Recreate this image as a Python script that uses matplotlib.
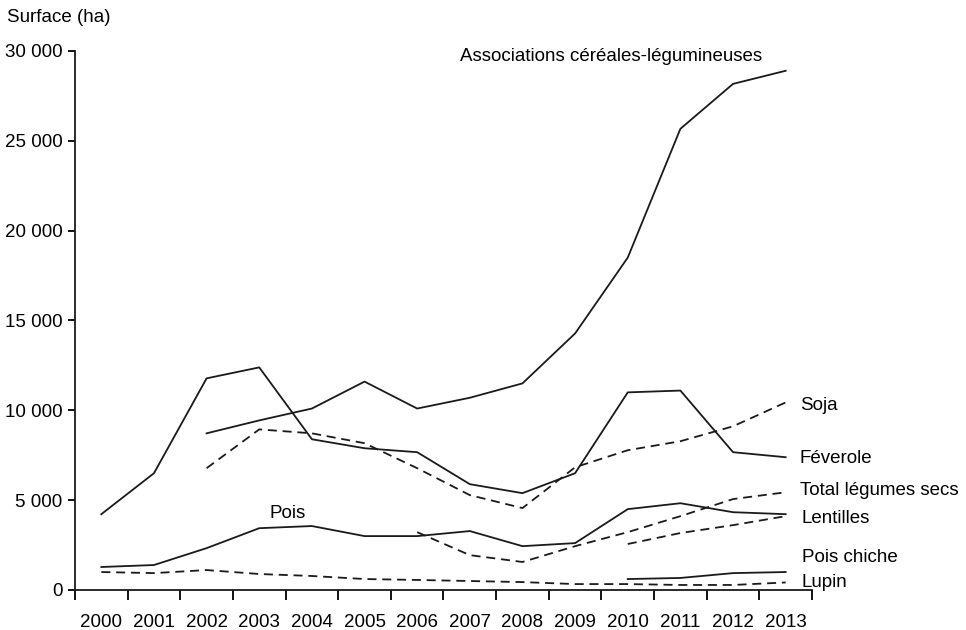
import matplotlib
matplotlib.use("Agg")
import matplotlib.pyplot as plt
import numpy as np

plt.rcParams['font.family'] = ['Liberation Sans', 'DejaVu Sans']

years = list(range(2000, 2014))
year_labels = [str(y) for y in years]

assoc = [None, None, 8720, 9440, 10100, 11600, 10100, 10700, 11500, 14280, 18500, 25670, 28170, 28900]
feverole = [4220, 6500, 11780, 12390, 8390, 7890, 7670, 5890, 5390, 6500, 11000, 11100, 7670, 7390]
soja = [None, None, 6780, 8940, 8720, 8170, 6780, 5280, 4560, 6830, 7780, 8280, 9110, 10440]
pois = [1280, 1390, 2330, 3440, 3560, 3000, 3000, 3280, 2440, 2610, 4500, 4830, 4330, 4220]
total_secs = [None, None, None, None, None, None, 3220, 1940, 1560, 2440, 3220, 4110, 5060, 5440]
lentilles = [None, None, None, None, None, None, None, None, None, None, 2560, 3170, 3610, 4110]
pois_chiche = [None, None, None, None, None, None, None, None, None, None, 610, 670, 940, 1000]
lupin = [1000, 940, 1110, 890, 780, 610, 560, 500, 440, 330, 330, 280, 280, 420]

series = [
    (assoc, '-'), (feverole, '-'), (soja, '--'), (pois, '-'),
    (total_secs, '--'), (lentilles, '--'), (pois_chiche, '-'), (lupin, '--'),
]

yticks = [0, 5000, 10000, 15000, 20000, 25000, 30000]
ytick_labels = ['0', '5 000', '10 000', '15 000', '20 000', '25 000', '30 000']

fig = plt.figure(figsize=(9.66, 6.30), dpi=100)
ax = fig.add_axes([75/966, 1-590/630, (812-75)/966, (590-51)/630])

x = np.arange(len(years))
for vals, ls in series:
    v = np.array([np.nan if a is None else a for a in vals], dtype=float)
    if ls == '--':
        ax.plot(x, v, color='#1a1a1a', lw=1.3, linestyle=(0, (5, 3.2)))
    else:
        ax.plot(x, v, color='#1a1a1a', lw=1.3)

ax.set_xlim(-0.5, len(years) - 0.5)
ax.set_ylim(0, 30000)
ax.set_xticks(np.arange(-0.5, len(years), 1.0))
ax.set_xticklabels([])
ax.set_xticks(x, minor=True)
ax.set_xticklabels(year_labels, minor=True)
ax.tick_params(axis='x', which='major', length=7, width=1.3, direction='out')
ax.tick_params(axis='x', which='minor', length=0, pad=17, labelsize=13.5)
ax.set_yticks(yticks)
ax.set_yticklabels(ytick_labels)
ax.tick_params(axis='y', length=5, width=1.3, labelsize=13.5, pad=4)

for s in ['top', 'right']:
    ax.spines[s].set_visible(False)
for s in ['left', 'bottom']:
    ax.spines[s].set_linewidth(1.3)
    ax.spines[s].set_color('#1a1a1a')

fs = 13.5
ax.text(6.81, 29720, 'Associations céréales-légumineuses', fontsize=fs, va='center', ha='left')
ax.text(3.53, 4280, 'Pois', fontsize=fs, va='center', ha='center')
lx = 13.27
ax.text(lx, 10280, 'Soja', fontsize=fs, va='center', ha='left', clip_on=False)
ax.text(lx, 7330, 'Féverole', fontsize=fs, va='center', ha='left', clip_on=False)
ax.text(lx, 5560, 'Total légumes secs', fontsize=fs, va='center', ha='left', clip_on=False)
ax.text(lx + 0.04, 4000, 'Lentilles', fontsize=fs, va='center', ha='left', clip_on=False)
ax.text(lx + 0.04, 1830, 'Pois chiche', fontsize=fs, va='center', ha='left', clip_on=False)
ax.text(lx + 0.04, 440, 'Lupin', fontsize=fs, va='center', ha='left', clip_on=False)

fig.text(7/966, 1-18/630, 'Surface (ha)', fontsize=fs, va='center', ha='left')

fig.savefig('out.png', dpi=100)
